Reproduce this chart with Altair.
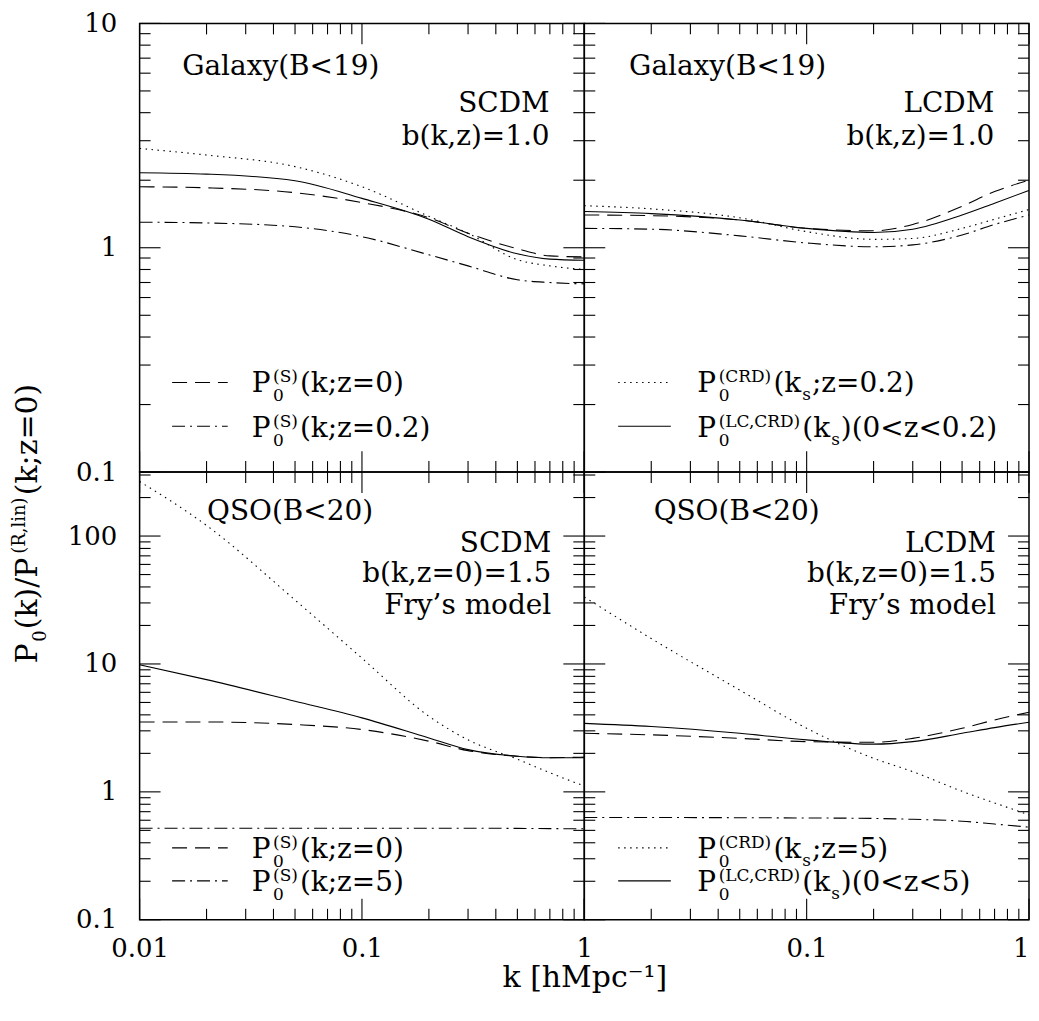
import math
import altair as alt
import pandas as pd

FONT = "DejaVu Serif"
MAIN = 28
SMALL = 17

# ---------------- data ----------------
K = [0.01, 0.02, 0.05, 0.1, 0.2, 0.3, 0.5, 0.7, 1.0]

# Galaxy, SCDM
TL_DASHED = [1.87, 1.85, 1.76, 1.59, 1.36, 1.16, 0.99, 0.92, 0.91]
TL_DASHDOT = [1.30, 1.29, 1.24, 1.12, 0.93, 0.83, 0.72, 0.70, 0.69]
TL_DOTTED = [2.77, 2.59, 2.30, 1.87, 1.38, 1.16, 0.885, 0.83, 0.80]
TL_SOLID = [2.16, 2.13, 1.99, 1.66, 1.34, 1.12, 0.94, 0.89, 0.88]

# Galaxy, LCDM
TR_DASHED = [1.40, 1.39, 1.33, 1.22, 1.19, 1.27, 1.53, 1.78, 2.00]
TR_SOLID = [1.45, 1.42, 1.33, 1.22, 1.17, 1.21, 1.40, 1.58, 1.80]
TR_DOTTED = [1.54, 1.49, 1.36, 1.18, 1.09, 1.10, 1.22, 1.34, 1.48]
TR_DASHDOT = [1.22, 1.21, 1.13, 1.05, 1.01, 1.03, 1.14, 1.27, 1.40]

# QSO, SCDM
BL_DOTTED = [267, 121, 31.6, 11.1, 3.90, 2.55, 1.80, 1.41, 1.11]
BL_SOLID = [9.86, 7.54, 5.11, 3.79, 2.64, 2.14, 1.90, 1.85, 1.85]
BL_DASHED = [3.52, 3.52, 3.36, 3.07, 2.49, 2.10, 1.90, 1.85, 1.87]
BL_DASHDOT = [0.52, 0.52, 0.52, 0.52, 0.52, 0.52, 0.518, 0.516, 0.515]

# QSO, LCDM
BR_DOTTED = [33.4, 15.8, 6.25, 3.14, 1.83, 1.44, 1.01, 0.82, 0.66]
BR_SOLID = [3.43, 3.24, 2.87, 2.55, 2.36, 2.47, 2.87, 3.18, 3.50]
BR_DASHED = [2.87, 2.79, 2.62, 2.47, 2.44, 2.62, 3.14, 3.65, 4.19]
BR_DASHDOT = [0.63, 0.63, 0.628, 0.625, 0.62, 0.61, 0.59, 0.56, 0.53]

X_MAJOR = [0.01, 0.1, 1.0]
X_MINOR = [0.02, 0.03, 0.04, 0.05, 0.06, 0.07, 0.08, 0.09,
           0.2, 0.3, 0.4, 0.5, 0.6, 0.7, 0.8, 0.9]
Y_TOP_MAJOR = [0.1, 1, 10]
Y_TOP_MINOR = [0.2, 0.3, 0.4, 0.5, 0.6, 0.7, 0.8, 0.9,
               2, 3, 4, 5, 6, 7, 8, 9]
Y_BOT_MAJOR = [0.1, 1, 10, 100]
Y_BOT_MINOR = [0.2, 0.3, 0.4, 0.5, 0.6, 0.7, 0.8, 0.9,
               2, 3, 4, 5, 6, 7, 8, 9,
               20, 30, 40, 50, 60, 70, 80, 90, 200, 300]

X_LABELS_LEFT = [0.01, 0.1, 1]
X_LABELS_RIGHT = [0.1, 1]
Y_LABELS_TOP = [0.1, 1, 10]
Y_LABELS_BOT = [0.1, 1, 10, 100]

X_DOMAIN = [0.01, 1.0]
TOP_DOMAIN = [0.1, 10.0]
BOT_DOMAIN = [0.1, 316.2]

# ---------------- styles / layout ----------------
DASHED = [15, 8]
DOTTED = [1.5, 4.5]
DASHDOT = [13, 5, 2, 5]
SOLID = None

W = 446
H_TOP = 450
H_BOT = 449
MAJOR_LEN = 21
MINOR_LEN = 11

CW = {'(': 0.39, ')': 0.39, ',': 0.318, '.': 0.318, ';': 0.337, '<': 0.838,
      '=': 0.838, ' ': 0.318, '/': 0.337, 'P': 0.733, 'S': 0.685, 'C': 0.734,
      'R': 0.770, 'D': 0.830, 'L': 0.653, 'k': 0.640, 'z': 0.589, 's': 0.514,
      'l': 0.320, 'i': 0.320, 'n': 0.644}
for d in "0123456789":
    CW[d] = 0.636


def tw(s, size):
    return sum(CW.get(c, 0.6) for c in s) * size


def rich(segs, main=MAIN, small=SMALL, up=10, down=9):
    out = []
    cur = 0.0
    for seg in segs:
        kind = seg[0]
        if kind == 'n':
            out.append((seg[1], cur, 0, main))
            cur += tw(seg[1], main)
        elif kind == 'ss':
            out.append((seg[1], cur + 1, -up, small))
            out.append((seg[2], cur + 1, down, small))
            cur += max(tw(seg[1], small), tw(seg[2], small)) + 3
        elif kind == 'sub':
            out.append((seg[1], cur, down - 1, small))
            cur += tw(seg[1], small) + 1
        elif kind == 'sup':
            out.append((seg[1], cur + 1, -up - 2, small))
            cur += tw(seg[1], small) + 3
    return out, cur


def log_shift(v, px, lo, hi, length):
    """value lying `px` pixels away from v along a log axis of the given pixel length"""
    dec = math.log10(hi) - math.log10(lo)
    return v * 10 ** (px * dec / length)


def make_panel(H, ydom, xlabels, ylabels, lines, ymaj, ymin, annots, legend,
               extra=None, flush=False):
    if xlabels is None:
        xaxis = None
    else:
        kw = dict(values=xlabels, format='~g', ticks=False, domain=False,
                  grid=False, labelPadding=16, labelFlush=flush, labelOverlap=False,
                  labelBound=False)
        if extra == 'titles':
            kw.update(title="k [hMpc\u207b\u00b9]", titleX=W, titleY=67,
                      titleAlign='center', titleBaseline='alphabetic',
                      titleAnchor='start', titleAngle=0)
        else:
            kw.update(title=None)
        xaxis = alt.Axis(**kw)
    if ylabels is None:
        yaxis = None
    else:
        yaxis = alt.Axis(values=ylabels, format='~g', ticks=False, domain=False,
                         grid=False, labelPadding=23, labelFlush=False, labelOverlap=False,
                         labelBound=False, title=None)
    xs = alt.Scale(type='log', domain=X_DOMAIN, nice=False)
    ys = alt.Scale(type='log', domain=ydom, nice=False)

    def X(f):
        return alt.X(f, type='quantitative', scale=xs, axis=xaxis)

    def Y(f):
        return alt.Y(f, type='quantitative', scale=ys, axis=yaxis)

    layers = []
    for vals, dash in lines:
        mk = dict(color='black', strokeWidth=1.1, interpolate='monotone', clip=True)
        if dash is not None:
            mk['strokeDash'] = dash
        df = pd.DataFrame({'k': K, 'v': vals})
        layers.append(alt.Chart(df).mark_line(**mk).encode(x=X('k'), y=Y('v')))

    # inward frame ticks: one small rule per tick, placed through the panel scales
    y_lo, y_hi = ydom
    x_lo, x_hi = X_DOMAIN
    tick_style = dict(color='black', strokeWidth=1.1)
    for vals, ln in [(X_MAJOR, MAJOR_LEN), (X_MINOR, MINOR_LEN)]:
        for t in vals:
            for va, vb in [(y_hi, log_shift(y_hi, -ln, y_lo, y_hi, H)),
                           (y_lo, log_shift(y_lo, ln, y_lo, y_hi, H))]:
                df = pd.DataFrame({'k': [t], 'v1': [va], 'v2': [vb]})
                layers.append(alt.Chart(df).mark_rule(**tick_style).encode(
                    x=X('k'), y=Y('v1'), y2=alt.Y2('v2')))
    for vals, ln in [(ymaj, MAJOR_LEN), (ymin, MINOR_LEN)]:
        for t in vals:
            for ka, kb in [(x_lo, log_shift(x_lo, ln, x_lo, x_hi, W)),
                           (x_hi, log_shift(x_hi, -ln, x_lo, x_hi, W))]:
                df = pd.DataFrame({'k1': [ka], 'k2': [kb], 'v': [t]})
                layers.append(alt.Chart(df).mark_rule(**tick_style).encode(
                    x=X('k1'), x2=alt.X2('k2'), y=Y('v')))

    def text_layer(text, k, v, dx, dy, size, align):
        df = pd.DataFrame({'k': [k], 'v': [v]})
        return alt.Chart(df).mark_text(
            text=text, dx=dx, dy=dy, fontSize=size, align=align,
            baseline='alphabetic', font=FONT, color='black').encode(x=X('k'), y=Y('v'))

    for text, k, v, align in annots:
        layers.append(text_layer(text, k, v, 0, 0, MAIN, align))

    for (k1, k2, vs, dash), (kt, vt, segs) in legend:
        df = pd.DataFrame({'k1': [k1], 'k2': [k2], 'v': [vs]})
        mk = dict(color='black', strokeWidth=1.1)
        if dash is not None:
            mk['strokeDash'] = dash
        layers.append(alt.Chart(df).mark_rule(**mk).encode(
            x=X('k1'), x2=alt.X2('k2'), y=Y('v')))
        pieces, _ = rich(segs)
        for txt, dx, dy, size in pieces:
            layers.append(text_layer(txt, kt, vt, dx, dy, size, 'left'))

    if extra == 'titles':
        # rotated y title, composed from pieces, centred on the full plot height
        segs = [('n', 'P'), ('sub', '0'), ('n', '(k)/P'), ('sup', '(R,lin)'), ('n', '(k;z=0)')]
        pieces, total = rich(segs, main=30, small=18, up=10, down=10)
        one = pd.DataFrame({'a': [0]})
        y0 = 39 + total * 1.08 / 2
        for txt, dx, dy, size in pieces:
            layers.append(alt.Chart(one).mark_text(
                text=txt, dx=dx, dy=dy, fontSize=size, align='left', angle=270,
                baseline='alphabetic', font=FONT, color='black').encode(
                x=alt.value(-103), y=alt.value(y0)))

    return alt.layer(*layers).properties(width=W, height=H)


def leg_top(k_text, k1, k2, rows):
    (d1, s1), (d2, s2) = rows
    return [((k1, k2, 0.251, d1), (k_text, 0.227, s1)),
            ((k1, k2, 0.160, d2), (k_text, 0.143, s2))]


def leg_bot(k_text, k1, k2, rows):
    (d1, s1), (d2, s2) = rows
    return [((k1, k2, 0.365, d1), (k_text, 0.305, s1)),
            ((k1, k2, 0.2015, d2), (k_text, 0.168, s2))]


tl = make_panel(
    H_TOP, TOP_DOMAIN, None, Y_LABELS_TOP,
    [(TL_DASHED, DASHED), (TL_DASHDOT, DASHDOT), (TL_DOTTED, DOTTED), (TL_SOLID, SOLID)],
    Y_TOP_MAJOR, Y_TOP_MINOR,
    [("Galaxy(B<19)", 0.01554, 5.86, 'left'), ("SCDM", 0.698, 4.02, 'right'),
     ("b(k,z)=1.0", 0.698, 2.87, 'right')],
    leg_top(0.0319, 0.0140, 0.0249, [
        (DASHED, [('n', 'P'), ('ss', '(S)', '0'), ('n', '(k;z=0)')]),
        (DASHDOT, [('n', 'P'), ('ss', '(S)', '0'), ('n', '(k;z=0.2)')])]))

tr = make_panel(
    H_TOP, TOP_DOMAIN, None, None,
    [(TR_DASHED, DASHED), (TR_DASHDOT, DASHDOT), (TR_DOTTED, DOTTED), (TR_SOLID, SOLID)],
    Y_TOP_MAJOR, Y_TOP_MINOR,
    [("Galaxy(B<19)", 0.0159, 5.86, 'left'), ("LCDM", 0.698, 4.02, 'right'),
     ("b(k,z)=1.0", 0.698, 2.87, 'right')],
    leg_top(0.0322, 0.0142, 0.0245, [
        (DOTTED, [('n', 'P'), ('ss', '(CRD)', '0'), ('n', '(k'), ('sub', 's'), ('n', ';z=0.2)')]),
        (SOLID, [('n', 'P'), ('ss', '(LC,CRD)', '0'), ('n', '(k'), ('sub', 's'),
                 ('n', ')(0<z<0.2)')])]))

bl = make_panel(
    H_BOT, BOT_DOMAIN, X_LABELS_LEFT, Y_LABELS_BOT,
    [(BL_DASHED, DASHED), (BL_DASHDOT, DASHDOT), (BL_DOTTED, DOTTED), (BL_SOLID, SOLID)],
    Y_BOT_MAJOR, Y_BOT_MINOR,
    [("QSO(B<20)", 0.0201, 133.6, 'left'), ("SCDM", 0.71, 75.2, 'right'),
     ("b(k,z=0)=1.5", 0.71, 43.9, 'right'), ("Fry\u2019s model", 0.71, 24.7, 'right')],
    leg_bot(0.0319, 0.0140, 0.0249, [
        (DASHED, [('n', 'P'), ('ss', '(S)', '0'), ('n', '(k;z=0)')]),
        (DASHDOT, [('n', 'P'), ('ss', '(S)', '0'), ('n', '(k;z=5)')])]),
    extra='titles')

br = make_panel(
    H_BOT, BOT_DOMAIN, X_LABELS_RIGHT, None,
    [(BR_DASHED, DASHED), (BR_DASHDOT, DASHDOT), (BR_DOTTED, DOTTED), (BR_SOLID, SOLID)],
    Y_BOT_MAJOR, Y_BOT_MINOR,
    [("QSO(B<20)", 0.0205, 133.6, 'left'), ("LCDM", 0.71, 75.2, 'right'),
     ("b(k,z=0)=1.5", 0.71, 43.9, 'right'), ("Fry\u2019s model", 0.71, 24.7, 'right')],
    leg_bot(0.0322, 0.0142, 0.0245, [
        (DOTTED, [('n', 'P'), ('ss', '(CRD)', '0'), ('n', '(k'), ('sub', 's'), ('n', ';z=5)')]),
        (SOLID, [('n', 'P'), ('ss', '(LC,CRD)', '0'), ('n', '(k'), ('sub', 's'),
                 ('n', ')(0<z<5)')])]),
    flush=True)

chart = alt.concat(tl, tr, bl, br, columns=2, spacing=0, bounds='flush').properties(
    padding={"left": 2, "top": 0, "right": 0, "bottom": 2},
    background='white'
).configure_view(
    stroke='black', strokeWidth=1.5
).configure_axis(
    labelFont=FONT, labelFontSize=26, labelColor='black',
    titleFont=FONT, titleFontSize=30, titleFontWeight='normal', titleColor='black'
)

chart.save("out.html", embed_options={"renderer": "svg", "actions": False})
